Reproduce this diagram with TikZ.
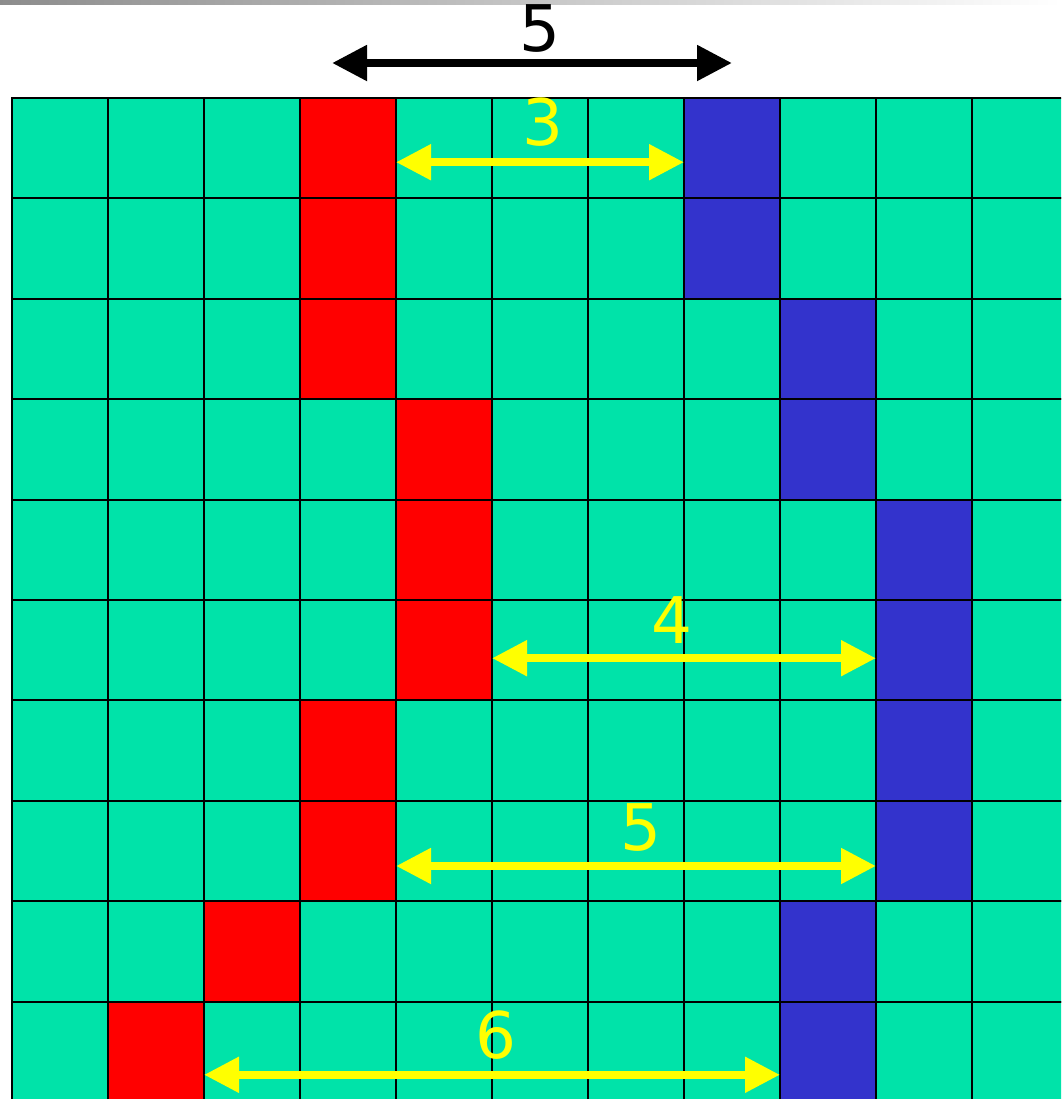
\documentclass[tikz,border=0pt]{standalone}
\usepackage{xcolor}
\usepackage{fontspec}
\setmainfont{DejaVu Sans}
\usepackage{tikz}
\usetikzlibrary{positioning, arrows.meta, calc}
\definecolor{cellgreen}{HTML}{00E3A9}
\definecolor{cellred}{HTML}{FF0000}
\definecolor{cellblue}{HTML}{3333CC}
\definecolor{gapyellow}{HTML}{FFFF00}

\tikzset{
  cell/.style={draw=black, line width=0.6pt, minimum width=0.96cm, minimum height=1.004cm,
               inner sep=0pt, outer sep=0pt},
  gaparrow/.style={line width=2.3pt,
               {Triangle[length=3.5mm, width=3.4mm]}-{Triangle[length=3.5mm, width=3.4mm]}},
  gaplabel/.style={inner sep=0pt, font=\fontsize{18.3}{20}\selectfont}
}

\begin{document}
\begin{tikzpicture}
    \clip (0,0) rectangle (10.61,-10.99);
    \shade[left color=black!45, right color=white] (0,0) rectangle (10.61,-0.04);

    % grid: red and blue column in each row
    \foreach \r/\redc/\bluec in {0/3/7, 1/3/7, 2/3/8, 3/4/8, 4/4/9,
                                 5/4/9, 6/3/9, 7/3/9, 8/2/8, 9/1/8}{
      \foreach \c in {0,...,10}{
        \ifnum\c=\redc \def\cellfill{cellred}\else
          \ifnum\c=\bluec \def\cellfill{cellblue}\else \def\cellfill{cellgreen}\fi\fi
        \node[cell, fill=\cellfill] (c-\r-\c) at ({0.6+0.96*\c}, {-1.482-1.004*\r}) {};
      }
    }

    % width on top
    \coordinate (top-l) at (3.32,-0.63);
    \coordinate (top-r) at (7.32,-0.63);
    \draw[gaparrow, black] (top-l) -- (top-r)
      node[midway, above=0.07cm, xshift=0.08cm, gaplabel] {5};

    % gaps between red and blue
    \draw[gaparrow, gapyellow] ($(c-0-3.east)+(0,-0.14)$) -- ($(c-0-7.west)+(0,-0.14)$)
      node[midway, above=0.12cm, xshift=0.03cm, gaplabel] {3};
    \draw[gaparrow, gapyellow] ($(c-5-4.east)+(0,-0.08)$) -- ($(c-5-9.west)+(0,-0.08)$)
      node[midway, above=0.11cm, xshift=-0.12cm, gaplabel] {4};
    \draw[gaparrow, gapyellow] ($(c-7-3.east)+(0,-0.15)$) -- ($(c-7-9.west)+(0,-0.15)$)
      node[midway, above=0.11cm, xshift=0.05cm, gaplabel] {5};
    \draw[gaparrow, gapyellow] ($(c-9-1.east)+(0,-0.23)$) -- ($(c-9-8.west)+(0,-0.23)$)
      node[midway, above=0.11cm, xshift=0.04cm, gaplabel] {6};
  \end{tikzpicture}
\end{document}
